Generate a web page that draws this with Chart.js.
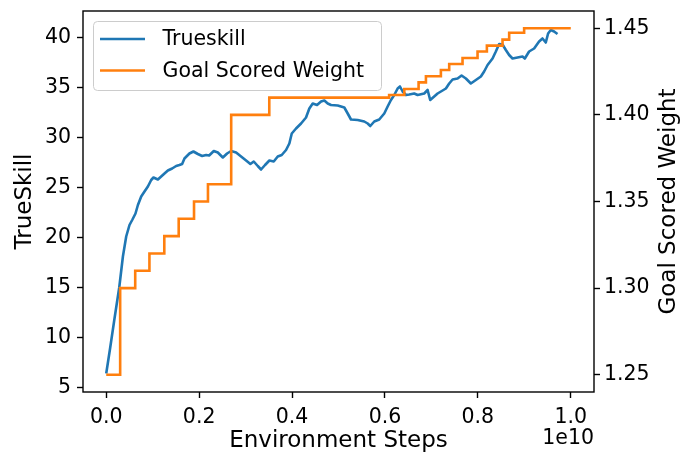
<!DOCTYPE html>
<html>
<head>
<meta charset="utf-8">
<script src="https://cdn.jsdelivr.net/npm/chart.js@4/dist/chart.umd.min.js"></script>
<style>
html,body{margin:0;padding:0;background:#fff;}
canvas{display:block;}
</style>
</head>
<body>
<canvas id="c" width="680" height="453"></canvas>
<script>
// Environment steps in units of 1e10
const trueskillSteps = [0.000,0.0086,0.0172,0.028,0.0359,0.043,0.0501,0.0559,0.063,0.0682,0.0753,0.0824,0.0897,0.0968,0.1017,0.1112,0.1183,0.1254,0.1327,0.1419,0.1505,0.1576,0.1634,0.1684,0.1791,0.1877,0.1972,0.2065,0.2151,0.2215,0.2316,0.2402,0.251,0.2602,0.2688,0.2796,0.2903,0.3011,0.3103,0.3176,0.3262,0.3333,0.3419,0.3512,0.3606,0.3692,0.3778,0.3871,0.3942,0.3994,0.4086,0.4194,0.4301,0.4372,0.4445,0.4538,0.4624,0.4695,0.4768,0.4839,0.4983,0.5125,0.5198,0.5269,0.5413,0.5555,0.5628,0.5684,0.577,0.5877,0.5985,0.6058,0.6129,0.62,0.6273,0.6323,0.6381,0.6452,0.6523,0.663,0.6703,0.6845,0.6918,0.6974,0.706,0.7133,0.7241,0.7312,0.7383,0.7456,0.7563,0.7649,0.7742,0.7849,0.7957,0.8065,0.8135,0.8209,0.8316,0.8387,0.8458,0.8531,0.8602,0.8673,0.8746,0.8854,0.8961,0.9011,0.9103,0.9211,0.9318,0.9391,0.9462,0.9512,0.957,0.9641,0.9714];
const trueskillValues = [6.4,9.0,11.7,15.0,18.1,20.1,21.25,21.75,22.4,23.25,24.1,24.6,25.1,25.75,26.0,25.8,26.1,26.4,26.7,26.9,27.15,27.25,27.35,27.9,28.4,28.6,28.35,28.15,28.25,28.2,28.65,28.5,28.0,28.4,28.65,28.5,28.1,27.7,27.35,27.6,27.15,26.8,27.25,27.7,27.6,28.1,28.25,28.75,29.4,30.4,30.9,31.4,32.0,32.9,33.4,33.25,33.6,33.7,33.4,33.25,33.2,33.0,32.4,31.8,31.75,31.6,31.4,31.15,31.6,31.8,32.4,33.1,33.75,34.25,34.9,35.1,34.6,34.25,34.3,34.4,34.25,34.4,34.75,33.75,34.1,34.4,34.7,34.9,35.4,35.8,35.9,36.2,35.9,35.4,35.75,36.1,36.6,37.25,37.9,38.6,39.35,39.3,38.75,38.25,37.9,38.0,38.1,37.9,38.6,38.9,39.6,39.9,39.5,40.4,40.75,40.6,40.35];
const weightSteps = [0,0.030,0.0624,0.093,0.125,0.156,0.189,0.219,0.269,0.351,0.609,0.6416,0.6724,0.6882,0.7204,0.7383,0.767,0.7993,0.8194,0.8531,0.8674,0.8996,1.0];
const weightValues = [1.25,1.30,1.31,1.32,1.33,1.34,1.35,1.36,1.40,1.41,1.4115,1.415,1.4188,1.4223,1.4259,1.4294,1.4329,1.4366,1.44,1.4435,1.4474,1.45,1.45];
const seriesLabels = ['Trueskill','Goal Scored Weight'];
const axisTitles = {x:'Environment Steps', y1:'TrueSkill', y2:'Goal Scored Weight'};
const xOffsetLabel = '1e10';

const BLUE = '#1f77b4', ORANGE = '#ff7f0e';
const FONT = 'DejaVu Sans';
Chart.defaults.font.family = FONT;
Chart.defaults.color = '#000';

const frameAndText = {
  id: 'frameAndText',
  afterDraw(chart) {
    const ctx = chart.ctx, a = chart.chartArea;
    ctx.save();
    ctx.strokeStyle = '#000';
    ctx.lineWidth = 1.4;
    ctx.strokeRect(a.left, a.top, a.right - a.left, a.bottom - a.top);
    // right axis title (reads bottom-to-top)
    ctx.fillStyle = '#000';
    ctx.font = '23px "' + FONT + '"';
    ctx.translate(675, (a.top + a.bottom) / 2);
    ctx.rotate(-Math.PI / 2);
    ctx.textAlign = 'center';
    ctx.textBaseline = 'alphabetic';
    ctx.fillText(axisTitles.y2, 0, 0);
    ctx.restore();
    // offset label
    ctx.save();
    ctx.fillStyle = '#000';
    ctx.font = '20.5px "' + FONT + '"';
    ctx.textAlign = 'right';
    ctx.textBaseline = 'alphabetic';
    ctx.fillText(xOffsetLabel, a.right, 444);
    ctx.restore();
    // legend
    ctx.save();
    const bx = 93.5, by = 21.5, bw = 288, bh = 69, r = 4;
    ctx.beginPath();
    ctx.moveTo(bx + r, by);
    ctx.arcTo(bx + bw, by, bx + bw, by + bh, r);
    ctx.arcTo(bx + bw, by + bh, bx, by + bh, r);
    ctx.arcTo(bx, by + bh, bx, by, r);
    ctx.arcTo(bx, by, bx + bw, by, r);
    ctx.closePath();
    ctx.fillStyle = 'rgba(255,255,255,0.8)';
    ctx.fill();
    ctx.strokeStyle = '#cccccc';
    ctx.lineWidth = 1;
    ctx.stroke();
    const rows = [39, 70.5];
    const colors = [BLUE, ORANGE];
    ctx.font = '20.5px "' + FONT + '"';
    ctx.textBaseline = 'middle';
    ctx.textAlign = 'left';
    seriesLabels.forEach((lab, i) => {
      ctx.strokeStyle = colors[i];
      ctx.lineWidth = 2.6;
      ctx.beginPath();
      ctx.moveTo(100, rows[i]);
      ctx.lineTo(145, rows[i]);
      ctx.stroke();
      ctx.fillStyle = '#000';
      ctx.fillText(lab, 162.5, rows[i] + 1);
    });
    ctx.restore();
  }
};

const tickGrid = {display: true, drawOnChartArea: false, drawTicks: true, tickLength: 6, tickColor: '#000', tickWidth: 1.4};
const noPad = s => { s.paddingTop = 0; s.paddingBottom = 0; s.paddingLeft = 0; s.paddingRight = 0; };

new Chart(document.getElementById('c'), {
  type: 'line',
  data: {
    datasets: [
      {
        label: seriesLabels[0],
        data: trueskillSteps.map((x, i) => ({x: x, y: trueskillValues[i]})),
        borderColor: BLUE,
        borderWidth: 2.6,
        pointRadius: 0,
        tension: 0,
        borderJoinStyle: 'round',
        yAxisID: 'y1',
        order: 1
      },
      {
        label: seriesLabels[1],
        data: weightSteps.map((x, i) => ({x: x, y: weightValues[i]})),
        borderColor: ORANGE,
        borderWidth: 2.6,
        pointRadius: 0,
        stepped: 'before',
        yAxisID: 'y2',
        order: 0
      }
    ]
  },
  options: {
    responsive: false,
    animation: false,
    devicePixelRatio: 1,
    layout: {padding: {top: 11, left: 0, right: 0, bottom: 0}},
    plugins: {legend: {display: false}, tooltip: {enabled: false}},
    scales: {
      x: {
        type: 'linear', position: 'bottom', min: -0.05, max: 1.05,
        grid: tickGrid, border: {display: false},
        ticks: {stepSize: 0.2, includeBounds: false, padding: 7, font: {size: 20.5}, maxRotation: 0,
          callback: v => v.toFixed(1)},
        title: {display: true, text: axisTitles.x, font: {size: 23}, padding: {top: 0, bottom: -2}},
        afterFit: s => { s.height = 61; noPad(s); }
      },
      y1: {
        type: 'linear', position: 'left', min: 4.55, max: 42.65,
        grid: tickGrid, border: {display: false},
        ticks: {stepSize: 5, includeBounds: false, padding: 6, font: {size: 20.5}, callback: v => String(Math.round(v))},
        title: {display: true, text: axisTitles.y1, font: {size: 23}, padding: {top: 11, bottom: 0}},
        afterFit: s => { s.width = 83; noPad(s); }
      },
      y2: {
        type: 'linear', position: 'right', min: 1.24, max: 1.46,
        grid: tickGrid, border: {display: false},
        ticks: {stepSize: 0.05, includeBounds: false, padding: 4, font: {size: 20.5}, callback: v => v.toFixed(2)},
        afterFit: s => { s.width = 86; noPad(s); }
      }
    }
  },
  plugins: [frameAndText]
});
</script>
</body>
</html>
